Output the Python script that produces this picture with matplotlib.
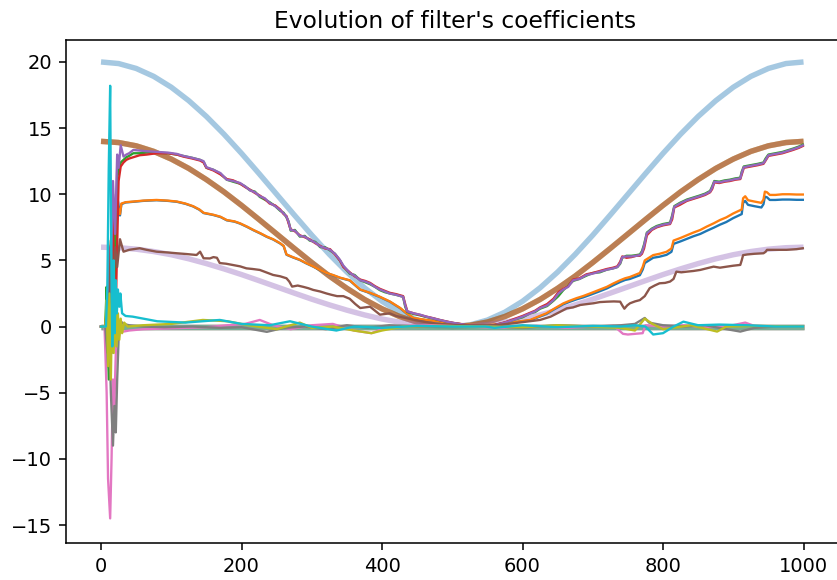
import numpy as np
import matplotlib
matplotlib.use("Agg")
import matplotlib.pyplot as plt

# ---------------- data ----------------
title = "Evolution of filter's coefficients"

# true (reference) coefficients, sampled every 25 steps
true_n = np.arange(0, 1001, 25)
true_big = [20.0, 19.88, 19.51, 18.91, 18.09, 17.07, 15.88, 14.54, 13.09, 11.56,
            10.0, 8.44, 6.91, 5.46, 4.12, 2.93, 1.91, 1.09, 0.49, 0.12,
            0.0, 0.12, 0.49, 1.09, 1.91, 2.93, 4.12, 5.46, 6.91, 8.44,
            10.0, 11.56, 13.09, 14.54, 15.88, 17.07, 18.09, 18.91, 19.51, 19.88, 20.0]
true_mid = [14.0, 13.91, 13.66, 13.24, 12.66, 11.95, 11.11, 10.18, 9.16, 8.09,
            7.0, 5.91, 4.84, 3.82, 2.89, 2.05, 1.34, 0.76, 0.34, 0.09,
            0.0, 0.09, 0.34, 0.76, 1.34, 2.05, 2.89, 3.82, 4.84, 5.91,
            7.0, 8.09, 9.16, 10.18, 11.11, 11.95, 12.66, 13.24, 13.66, 13.91, 14.0]
true_small = [6.0, 5.96, 5.85, 5.67, 5.43, 5.12, 4.76, 4.36, 3.93, 3.47,
              3.0, 2.53, 2.07, 1.64, 1.24, 0.88, 0.57, 0.33, 0.15, 0.04,
              0.0, 0.04, 0.15, 0.33, 0.57, 0.88, 1.24, 1.64, 2.07, 2.53,
              3.0, 3.47, 3.93, 4.36, 4.76, 5.12, 5.43, 5.67, 5.85, 5.96, 6.0]
true_zero = [0.0] * 41

# estimated coefficients: group tracking the 14-curve (green, red, purple)
g_n = [0, 6, 8, 11, 13, 17, 20, 23, 25, 28,
       32, 36, 40, 46, 55, 65, 79, 95, 108, 117,
       130, 141, 146, 150, 160, 170, 179, 188, 198, 205,
       212, 219, 226, 233, 240, 248, 255, 260, 264, 267,
       270, 276, 283, 290, 297, 305, 312, 319, 326, 333,
       340, 345, 354, 361, 369, 376, 383, 390, 397, 404,
       411, 420, 430, 433, 436, 445, 454, 463, 473, 482,
       492, 501, 511, 520, 530, 545, 560, 575, 587, 600,
       611, 618, 625, 635, 644, 651, 658, 665, 672, 681,
       691, 700, 710, 720, 729, 735, 739, 742, 748, 755,
       762, 767, 770, 773, 777, 784, 791, 800, 810, 813,
       816, 824, 834, 843, 852, 860, 867, 870, 873, 880,
       888, 895, 903, 910, 912, 915, 925, 935, 943, 946,
       950, 960, 970, 976, 985, 993, 999]
purple_est = [0, 0, -2, 6, 2, 11, 7, 13, 12, 13.7,
              12.85, 13.0, 13.1, 13.35, 13.3, 13.25, 13.2, 13.15, 13.05, 12.9,
              12.75, 12.6, 12.5, 12.05, 11.85, 11.6, 11.1, 11.0, 10.85, 10.6,
              10.3, 10.15, 9.85, 9.7, 9.35, 9.1, 8.8, 8.55, 8.3, 7.9,
              7.3, 7.25, 6.85, 6.8, 6.55, 6.35, 6.05, 5.95, 5.8, 5.5,
              5.05, 4.6, 4.05, 3.85, 3.5, 3.4, 3.25, 3.0, 2.8, 2.65,
              2.5, 2.4, 2.25, 1.6, 1.15, 1.0, 0.9, 0.75, 0.62, 0.5,
              0.37, 0.28, 0.2, 0.12, 0.07, 0.05, 0.1, 0.3, 0.5, 0.75,
              1.0, 1.15, 1.4, 1.6, 2.0, 2.5, 2.8, 3.0, 3.5, 3.6,
              3.9, 4.0, 4.15, 4.3, 4.4, 4.5, 4.8, 5.25, 5.3, 5.3,
              5.35, 5.4, 5.6, 6.1, 7.05, 7.35, 7.55, 7.7, 7.8, 8.3,
              9.05, 9.3, 9.55, 9.7, 9.85, 10.0, 10.2, 10.5, 10.95, 10.9,
              11.0, 11.05, 11.15, 11.2, 11.6, 12.05, 12.15, 12.25, 12.35, 12.6,
              12.95, 13.05, 13.15, 13.25, 13.4, 13.55, 13.7]
red_est = [0, 0, 1, -2, 3, 8, -1, 6, 11, 12.1,
           12.4, 12.6, 12.7, 12.8, 12.95, 13.0, 13.1, 13.1, 13.0, 12.85,
           12.7, 12.55, 12.4, 12.0, 11.8, 11.5, 11.15, 11.05, 10.8, 10.55,
           10.35, 10.1, 9.9, 9.65, 9.3, 9.15, 8.85, 8.5, 8.35, 7.8,
           7.35, 7.2, 6.9, 6.75, 6.6, 6.3, 6.1, 5.9, 5.85, 5.45,
           5.0, 4.5, 4.1, 3.8, 3.55, 3.45, 3.3, 3.05, 2.85, 2.7,
           2.55, 2.45, 2.3, 1.7, 1.15, 1.0, 0.88, 0.75, 0.63, 0.5,
           0.38, 0.28, 0.2, 0.12, 0.08, 0.06, 0.12, 0.32, 0.55, 0.8,
           1.05, 1.2, 1.45, 1.7, 2.1, 2.6, 2.85, 3.05, 3.55, 3.65,
           3.95, 4.05, 4.2, 4.35, 4.45, 4.55, 4.9, 5.3, 5.2, 5.25,
           5.35, 5.35, 5.5, 5.9, 6.9, 7.3, 7.5, 7.65, 7.75, 8.1,
           9.0, 9.2, 9.5, 9.65, 9.8, 9.95, 10.15, 10.4, 10.9, 10.85,
           10.95, 11.0, 11.1, 11.15, 11.5, 12.0, 12.1, 12.2, 12.3, 12.55,
           12.9, 13.0, 13.1, 13.2, 13.35, 13.5, 13.65]
green_est = [0, 0, 3, -4, 5, 10, 0, 12, 11.5, 12.4,
             12.6, 12.8, 12.9, 13.1, 13.1, 13.15, 13.15, 13.1, 13.0, 12.9,
             12.75, 12.6, 12.45, 12.0, 11.85, 11.55, 11.1, 10.95, 10.8, 10.6,
             10.3, 10.2, 9.8, 9.6, 9.4, 9.1, 8.75, 8.6, 8.25, 7.95,
             7.25, 7.3, 6.8, 6.85, 6.5, 6.4, 6.0, 6.0, 5.75, 5.5,
             5.0, 4.55, 4.0, 3.9, 3.5, 3.35, 3.2, 3.0, 2.75, 2.6,
             2.5, 2.4, 2.25, 1.5, 1.1, 0.95, 0.85, 0.72, 0.6, 0.48,
             0.36, 0.27, 0.19, 0.11, 0.07, 0.05, 0.1, 0.3, 0.5, 0.7,
             1.0, 1.1, 1.35, 1.55, 1.95, 2.3, 2.75, 3.1, 3.45, 3.6,
             3.85, 4.05, 4.1, 4.3, 4.4, 4.5, 4.75, 5.2, 5.35, 5.35,
             5.4, 5.45, 5.7, 6.2, 7.1, 7.4, 7.6, 7.75, 7.85, 8.4,
             9.1, 9.35, 9.6, 9.75, 9.9, 10.05, 10.25, 10.6, 11.0, 10.95,
             11.05, 11.1, 11.2, 11.25, 11.7, 12.1, 12.2, 12.3, 12.4, 12.7,
             13.0, 13.1, 13.2, 13.3, 13.45, 13.6, 13.75]

# estimates tracking ~10 (blue, orange)
o_n = [0, 6, 9, 12, 15, 18, 21, 24, 27, 29,
       35, 46, 60, 79, 95, 108, 120, 131, 140, 146,
       160, 170, 179, 190, 198, 208, 217, 227, 236, 245,
       255, 260, 264, 273, 283, 292, 302, 311, 321, 330,
       340, 354, 369, 383, 397, 411, 426, 435, 445, 463,
       483, 500, 515, 530, 550, 570, 590, 611, 620, 634,
       645, 658, 667, 677, 686, 696, 708, 720, 729, 739,
       746, 753, 760, 767, 771, 774, 786, 795, 805, 812,
       815, 825, 834, 843, 853, 862, 872, 881, 890, 900,
       906, 912, 914, 917, 921, 930, 940, 943, 945, 948,
       952, 960, 970, 980, 990, 999]
orange_est = [0, 0, 2, -3, 5, 1, 7, 9, 8.5, 9.3,
              9.4, 9.45, 9.52, 9.57, 9.52, 9.45, 9.3, 9.1, 8.85, 8.6,
              8.45, 8.3, 8.05, 7.95, 7.8, 7.55, 7.3, 7.05, 6.8, 6.6,
              6.3, 6.1, 5.45, 5.25, 5.05, 4.8, 4.55, 4.3, 4.05, 3.9,
              3.7, 3.5, 2.8, 2.55, 2.25, 1.9, 1.4, 1.0, 0.65, 0.5,
              0.37, 0.25, 0.18, 0.12, 0.1, 0.2, 0.35, 0.5, 0.7, 1.0,
              1.35, 1.75, 1.95, 2.15, 2.3, 2.5, 2.75, 3.0, 3.25, 3.5,
              3.65, 3.75, 3.9, 4.05, 4.5, 5.0, 5.4, 5.5, 5.65, 5.9,
              6.5, 6.7, 6.9, 7.1, 7.3, 7.55, 7.8, 8.05, 8.25, 8.55,
              8.7, 8.85, 9.7, 9.85, 9.55, 9.45, 9.35, 9.6, 10.2, 10.15,
              9.95, 9.95, 10.0, 10.0, 9.98, 9.98]
blue_est = [0, 0, -3, 4, -2, 9, 6, 9.5, 8.4, 9.25,
            9.38, 9.43, 9.5, 9.55, 9.5, 9.43, 9.28, 9.08, 8.83, 8.58,
            8.43, 8.28, 8.03, 7.93, 7.78, 7.53, 7.28, 7.03, 6.78, 6.58,
            6.28, 6.08, 5.43, 5.23, 5.03, 4.78, 4.53, 4.28, 4.03, 3.88,
            3.68, 3.48, 2.78, 2.53, 2.23, 1.88, 1.38, 0.98, 0.63, 0.48,
            0.35, 0.23, 0.16, 0.1, 0.08, 0.18, 0.33, 0.47, 0.66, 0.95,
            1.3, 1.68, 1.87, 2.06, 2.2, 2.39, 2.63, 2.88, 3.12, 3.37,
            3.52, 3.6, 3.74, 3.88, 4.3, 4.8, 5.2, 5.28, 5.42, 5.65,
            6.25, 6.44, 6.63, 6.82, 7.0, 7.23, 7.47, 7.7, 7.9, 8.2,
            8.35, 8.5, 9.35, 9.5, 9.2, 9.1, 9.0, 9.25, 9.82, 9.77,
            9.57, 9.57, 9.6, 9.6, 9.58, 9.58]

# estimate tracking ~6 (brown)
b_n = [0, 6, 8, 10, 14, 17, 20, 23, 27, 32,
       40, 55, 65, 79, 95, 108, 122, 136, 141, 146,
       155, 160, 165, 169, 178, 188, 198, 207, 216, 226,
       235, 245, 255, 264, 268, 272, 280, 288, 295, 302,
       312, 321, 328, 336, 345, 354, 362, 369, 376, 383,
       390, 397, 404, 411, 420, 435, 447, 459, 480, 506,
       530, 560, 587, 610, 625, 640, 653, 663, 672, 682,
       692, 701, 710, 720, 730, 739, 742, 745, 749, 753,
       760, 767, 774, 781, 788, 795, 803, 810, 815, 819,
       826, 834, 843, 853, 862, 872, 881, 891, 900, 910,
       912, 914, 920, 930, 943, 946, 948, 960, 976, 990, 999]
brown_est = [0, 0, 1, -2, 6.5, 3, 6, 4.5, 6.6, 5.66,
             5.8, 5.92, 5.8, 5.66, 5.6, 5.54, 5.48, 5.41, 5.66, 5.16,
             5.15, 5.25, 5.2, 4.8, 4.75, 4.65, 4.55, 4.4, 4.35, 4.28,
             4.1, 3.9, 3.8, 3.65, 3.4, 3.02, 3.1, 3.0, 2.9, 2.77,
             2.65, 2.5, 2.4, 2.3, 2.3, 2.1, 1.7, 1.4, 1.45, 1.5,
             1.2, 0.9, 0.95, 1.0, 0.8, 0.63, 0.5, 0.37, 0.2, 0.12,
             0.08, 0.1, 0.25, 0.4, 0.5, 0.75, 1.1, 1.38, 1.45, 1.63,
             1.7, 1.76, 1.85, 1.88, 1.9, 1.88, 1.6, 1.35, 1.6, 1.76,
             1.9, 2.0, 2.3, 2.9, 3.1, 3.27, 3.3, 3.4, 3.6, 4.15,
             4.1, 4.15, 4.2, 4.28, 4.4, 4.53, 4.45, 4.53, 4.6, 4.66,
             5.0, 5.4, 5.45, 5.5, 5.54, 5.65, 5.8, 5.8, 5.8, 5.85, 5.92]

# estimates hovering around zero
pink_n = [0, 5, 8, 10, 13, 15, 17, 19, 21, 23,
          26, 30, 40, 60, 90, 120, 150, 180, 205, 226,
          245, 270, 300, 330, 360, 385, 400, 430, 470, 520,
          570, 620, 660, 700, 730, 743, 750, 760, 771, 775,
          800, 830, 860, 890, 917, 930, 960, 999]
pink_est = [0, 0, -5, -11.5, -14.5, -10, -4, -6, -2, 0.5,
            -0.3, -0.4, -0.3, -0.2, -0.15, -0.1, -0.05, 0.1, 0.2, 0.5,
            0.1, -0.2, 0.1, 0.2, -0.3, -0.5, -0.2, 0.05, 0.1, 0.0,
            -0.1, 0.05, -0.1, 0.0, 0.05, -0.55, -0.6, -0.55, -0.5, 0.1,
            0.0, 0.1, -0.05, 0.0, 0.3, 0.05, 0.0, 0.0]
gray_n = [0, 6, 9, 11, 14, 17, 19, 21, 23, 25,
          28, 32, 40, 60, 90, 130, 170, 200, 236, 260,
          290, 320, 350, 380, 410, 450, 500, 550, 600, 650,
          700, 740, 760, 774, 780, 800, 830, 860, 880, 910,
          930, 960, 999]
gray_est = [0, 0, -2, 1, -5, -9, -6, -8, -4, -1,
            0.4, 0.2, 0.1, 0.0, -0.05, 0.0, -0.1, -0.05, -0.4, -0.1,
            0.0, -0.2, 0.1, -0.1, 0.1, 0.0, 0.0, 0.05, -0.1, 0.1,
            0.0, 0.1, 0.2, 0.65, 0.3, 0.1, 0.0, 0.1, -0.1, -0.38,
            -0.1, 0.0, 0.0]
olive_n = [0, 6, 8, 10, 12, 14, 16, 18, 20, 22,
           24, 26, 28, 30, 33, 38, 60, 100, 145, 180,
           210, 250, 283, 300, 330, 360, 385, 400, 430, 480,
           540, 600, 650, 700, 740, 760, 774, 785, 800, 840,
           877, 890, 930, 999]
olive_est = [0, 0, 2, -3, 2.5, -4, 3, -2, 2, -1.5,
             1, -1, 0.6, -0.5, 0.3, 0.0, 0.1, 0.2, 0.5, 0.4,
             0.1, -0.2, 0.3, -0.1, 0.0, -0.3, -0.5, -0.3, 0.0, 0.05,
             0.0, -0.05, 0.1, 0.0, -0.1, -0.3, 0.6, 0.2, -0.2, 0.1,
             -0.38, 0.0, 0.05, 0.0]
cyan_n = [0, 7, 9, 11, 13, 14.5, 16, 18, 19.5, 21,
          22.5, 24, 26, 27.5, 30, 35, 45, 60, 80, 120,
          169, 200, 240, 269, 300, 335, 360, 400, 450, 500,
          547, 560, 600, 650, 700, 740, 760, 775, 786, 800,
          815, 829, 850, 880, 920, 960, 999]
cyan_est = [0, 0, 3, 12, 18.2, 6, -1.5, 5, -0.5, 3.5,
            1, 2.8, 1.5, 2.5, 1.0, 0.8, 0.75, 0.6, 0.4, 0.3,
            0.5, 0.2, 0.1, 0.4, 0.0, -0.3, 0.0, -0.1, 0.05, 0.0,
            0.0, -0.1, 0.1, -0.05, 0.05, 0.0, 0.1, 0.0, -0.6, -0.5,
            0.0, 0.37, 0.1, 0.15, 0.1, 0.0, 0.0]

# ---------------- plot ----------------
W, H, DPI = 837, 580, 140
fig = plt.figure(figsize=(W / DPI, H / DPI), dpi=DPI)
# axes spans slightly past the right edge of the image (right spine cut off)
ax = fig.add_axes([65.9 / W, 37 / H, 778.0 / W, 503 / H])

colors = ['C0', 'C1', 'C2', 'C3', 'C4', 'C5', 'C6', 'C7', 'C8', 'C9']
true_sets = [true_big, true_mid, true_mid, true_mid, true_small,
             true_zero, true_zero, true_zero, true_zero, true_zero]
for c, vals in zip(colors, true_sets):
    ax.plot(true_n, vals, color=c, lw=2.8, alpha=0.4, solid_capstyle='butt')

est_sets = [(o_n, blue_est), (o_n, orange_est), (g_n, green_est),
            (g_n, red_est), (g_n, purple_est), (b_n, brown_est),
            (pink_n, pink_est), (gray_n, gray_est), (olive_n, olive_est),
            (cyan_n, cyan_est)]
for c, (xs, ys) in zip(colors, est_sets):
    ax.plot(xs, ys, color=c, lw=1.2)

ax.set_xlim(-50, 1050 + 5.25 / 0.7025)
ax.set_ylim(-16.36, 21.66)
ax.set_title(title, fontsize=12)

fig.savefig("out.png", dpi=DPI)
